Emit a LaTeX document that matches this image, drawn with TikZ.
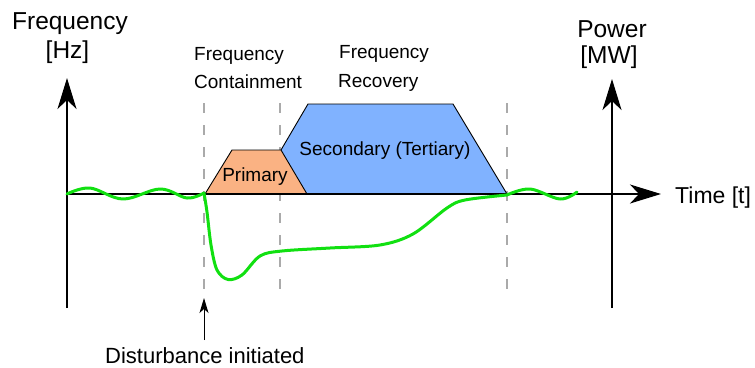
\documentclass[tikz,border=0pt]{standalone}
\usepackage{fontspec}
\setmainfont{Liberation Sans}
\usetikzlibrary{arrows.meta}
\definecolor{prim}{HTML}{FAB283}
\definecolor{sec}{HTML}{80B2FF}
\definecolor{sig}{HTML}{11E011}
\definecolor{guide}{HTML}{AAAAAA}
\tikzset{
  axis/.style={line width=2pt, -{Stealth[length=31pt,width=19pt,inset=9pt]}},
  guideline/.style={guide, line width=2pt, dash pattern=on 10pt off 12pt},
  area/.style={draw=black, line width=0.9pt, line join=round},
  signal/.style={sig, line width=3pt, line cap=round, line join=round},
  title/.style={inner sep=0pt, font=\fontsize{24.5}{26}\selectfont},
  label/.style={inner sep=0pt, anchor=base west, font=\fontsize{19}{21}\selectfont},
}
\begin{document}
\begin{tikzpicture}[x=1pt,y=-1pt]
\useasboundingbox (0,0) rectangle (755,367);
% guide lines
\coordinate (g1t) at (204,103); \coordinate (g1b) at (204,290);
\coordinate (g2t) at (280,103); \coordinate (g2b) at (280,290);
\coordinate (g3t) at (507,103); \coordinate (g3b) at (507,290);
\draw[guideline] (g1t) -- (g1b);
\draw[guideline] (g2t) -- (g2b);
\draw[guideline] (g3t) -- (g3b);
% areas
\fill[sec] (307,194) -- (281,150) -- (308,104) -- (453,104) -- (507,194) -- cycle;
\draw[area] (281,150) -- (308,104) -- (453,104) -- (507,194);
\filldraw[area, fill=prim] (205,194) -- (232,150) -- (281,150) -- (307,194) -- cycle;
\node[inner sep=0pt, font=\fontsize{19}{21}\selectfont] (prim) at (255,177) {Primary};
\node[inner sep=0pt, font=\fontsize{19}{21}\selectfont] (sec) at (385,151) {Secondary (Tertiary)};
% axes
\coordinate (o) at (67,194);
\coordinate (yb) at (67,308); \coordinate (yt) at (67,78);
\coordinate (pb) at (612,308); \coordinate (pt) at (612,79);
\coordinate (xt) at (661,194);
\draw[axis] (yb) -- (yt);
\draw[axis] (pb) -- (pt);
\draw[axis] (o) -- (xt);
% signal
\draw[signal] plot[smooth, tension=0.6] coordinates {(67,194) (90,188) (123,199) (160,189) (187,198) (204,193)};
\draw[signal] plot[smooth, tension=0.55] coordinates {(204,193) (207,212) (211,245) (217,270) (228,279.5) (242,275) (260,256) (282,251) (330,248) (380,245) (413,234) (447,208) (465,200) (507,195)};
\draw[signal] plot[smooth, tension=0.6] coordinates {(507,195) (530,189) (560,199) (577,192)};
% texts
\node[title, anchor=base] (ft) at (70,29) {Frequency};
\node[title, anchor=base] (fu) at (67.5,58) {[Hz]};
\node[title, anchor=base] (pwt) at (612,37) {Power};
\node[title, anchor=base] (pwu) at (609,63) {[MW]};
\node[inner sep=0pt, anchor=base west, font=\fontsize{23}{25}\selectfont] (tt) at (675,203) {Time [t]};
\node[label] (fc1) at (194,60) {Frequency};
\node[label] (fc2) at (194,88) {Containment};
\node[label] (fr1) at (339,58) {Frequency};
\node[label] (fr2) at (338,87) {Recovery};
\node[inner sep=0pt, anchor=base west, font=\fontsize{22}{24}\selectfont] (dist) at (105,363) {Disturbance initiated};
\coordinate (da) at (204,340);
\coordinate (dt) at (204,298);
\draw[line width=1pt, -{Stealth[length=15pt,width=9pt,inset=4pt]}] (da) -- (dt);
\end{tikzpicture}
\end{document}
